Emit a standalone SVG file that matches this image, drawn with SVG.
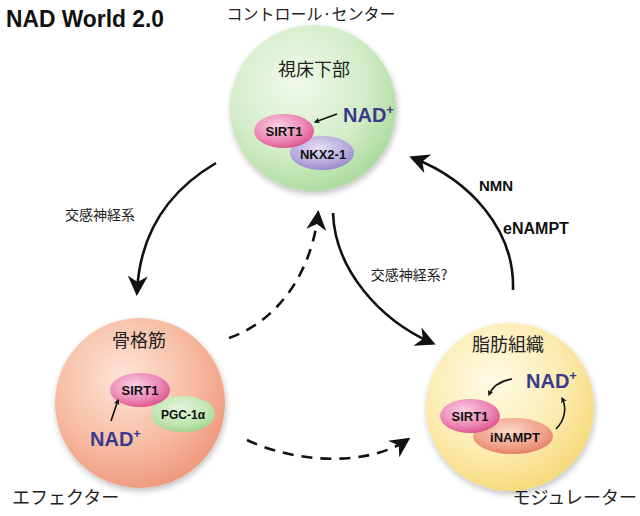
<svg xmlns="http://www.w3.org/2000/svg" width="640" height="516" viewBox="0 0 640 516">
<defs>
<radialGradient id="gG" cx="0.4" cy="0.35" r="0.7">
<stop offset="0" stop-color="#f1f9ea"/><stop offset="0.6" stop-color="#d3edc8"/><stop offset="1" stop-color="#a9d99c"/>
</radialGradient>
<radialGradient id="gS" cx="0.4" cy="0.35" r="0.7">
<stop offset="0" stop-color="#fde5d8"/><stop offset="0.6" stop-color="#f7bba2"/><stop offset="1" stop-color="#ee9679"/>
</radialGradient>
<radialGradient id="gY" cx="0.4" cy="0.35" r="0.7">
<stop offset="0" stop-color="#fffbe6"/><stop offset="0.6" stop-color="#fcebb0"/><stop offset="1" stop-color="#f5d874"/>
</radialGradient>
<radialGradient id="gPink" cx="0.4" cy="0.35" r="0.75">
<stop offset="0" stop-color="#f9d0e2"/><stop offset="0.6" stop-color="#ec86b4"/><stop offset="1" stop-color="#d9447f"/>
</radialGradient>
<radialGradient id="gPur" cx="0.45" cy="0.35" r="0.75">
<stop offset="0" stop-color="#e4def4"/><stop offset="0.6" stop-color="#b5a9dc"/><stop offset="1" stop-color="#8a7bc4"/>
</radialGradient>
<radialGradient id="gLG" cx="0.45" cy="0.35" r="0.75">
<stop offset="0" stop-color="#e6f6de"/><stop offset="0.6" stop-color="#bfe5b0"/><stop offset="1" stop-color="#94d07f"/>
</radialGradient>
<radialGradient id="gOr" cx="0.45" cy="0.35" r="0.75">
<stop offset="0" stop-color="#fbd8c8"/><stop offset="0.6" stop-color="#f0a088"/><stop offset="1" stop-color="#e0705a"/>
</radialGradient>
<filter id="sh" x="-20%" y="-20%" width="140%" height="140%">
<feGaussianBlur in="SourceAlpha" stdDeviation="3"/><feOffset dx="1" dy="3"/>
<feComponentTransfer><feFuncA type="linear" slope="0.25"/></feComponentTransfer>
<feMerge><feMergeNode/><feMergeNode in="SourceGraphic"/></feMerge>
</filter>
<marker id="ah" viewBox="0 0 10 10" refX="8" refY="5" markerWidth="6" markerHeight="6" orient="auto" markerUnits="userSpaceOnUse">
<path d="M0,0 L10,5 L0,10 L3,5 Z" fill="#111"/>
</marker>
<marker id="ahB" viewBox="0 0 10 10" refX="8" refY="5" markerWidth="20" markerHeight="20" orient="auto" markerUnits="userSpaceOnUse">
<path d="M0,0 L10,5 L0,10 L3,5 Z" fill="#111"/>
</marker>
</defs>
<style>
.jp{font-family:"Noto Sans CJK JP","Noto Sans",sans-serif;fill:#222}
.b{font-family:"Liberation Sans",Arial,sans-serif;font-weight:bold;fill:#111}
.nad{font-family:"Liberation Sans",Arial,sans-serif;font-weight:bold;fill:#3a3a8c;font-size:20px}
.conn{fill:none;stroke:#111;stroke-width:2.6}
.dash{stroke-dasharray:11 8}
.small{fill:none;stroke:#111;stroke-width:1.6}
</style>
<rect width="640" height="516" fill="#ffffff"/>
<text x="6" y="27" class="b" font-size="23" textLength="158" lengthAdjust="spacingAndGlyphs">NAD World 2.0</text>
<text x="311" y="20" class="jp" font-size="16" text-anchor="middle">コントロール·センター</text>
<text x="12" y="504" class="jp" font-size="18">エフェクター</text>
<text x="637" y="504" class="jp" font-size="18" text-anchor="end">モジュレーター</text>

<g id="connectors">
<path class="conn" d="M216,163 C170,190 140,230 137,292" marker-end="url(#ahB)"/>
<path class="conn" d="M333,213 C335,270 380,320 432,343" marker-end="url(#ahB)"/>
<path class="conn" d="M513,290 C515,230 470,180 413,158" marker-end="url(#ahB)"/>
<path class="conn dash" d="M229,338 C280,320 312,270 318,214" marker-end="url(#ahB)"/>
<path class="conn dash" d="M247,440 C300,465 370,465 407,440" marker-end="url(#ahB)"/>
<text x="100" y="220" class="jp" font-size="14" text-anchor="middle">交感神経系</text>
<text x="409" y="280" class="jp" font-size="14" text-anchor="middle">交感神経系?</text>
<text x="496" y="191" class="b" font-size="15" text-anchor="middle">NMN</text>
<text x="536" y="234" class="b" font-size="16" text-anchor="middle">eNAMPT</text>
</g>

<g id="hypothalamus">
<circle cx="313" cy="108" r="83" fill="url(#gG)" filter="url(#sh)"/>
<text x="314" y="76" class="jp" font-size="18" text-anchor="middle">視床下部</text>
<ellipse cx="322" cy="153" rx="32" ry="17" fill="url(#gPur)"/>
<ellipse cx="284" cy="131" rx="30" ry="17" fill="url(#gPink)"/>
<text x="284" y="136" class="b" font-size="13" text-anchor="middle">SIRT1</text>
<text x="323" y="159" class="b" font-size="13" text-anchor="middle">NKX2-1</text>
<path class="small" d="M337,114 L315,122" marker-end="url(#ah)"/>
<text x="343" y="122" class="nad">NAD<tspan font-size="13" dy="-8">+</tspan></text>
</g>

<g id="muscle">
<circle cx="140" cy="403" r="85" fill="url(#gS)" filter="url(#sh)"/>
<text x="139" y="347" class="jp" font-size="18" text-anchor="middle">骨格筋</text>
<ellipse cx="183" cy="414" rx="32" ry="18" fill="url(#gLG)"/>
<ellipse cx="140" cy="390" rx="30" ry="17" fill="url(#gPink)"/>
<text x="140" y="395" class="b" font-size="13" text-anchor="middle">SIRT1</text>
<text x="183" y="419" class="b" font-size="12" text-anchor="middle">PGC-1α</text>
<path class="small" d="M111,421 L118,400" marker-end="url(#ah)"/>
<text x="90" y="446" class="nad">NAD<tspan font-size="13" dy="-8">+</tspan></text>
</g>

<g id="adipose">
<circle cx="510" cy="407" r="84" fill="url(#gY)" filter="url(#sh)"/>
<text x="508" y="351" class="jp" font-size="18" text-anchor="middle">脂肪組織</text>
<ellipse cx="513" cy="436" rx="40" ry="18" fill="url(#gOr)"/>
<ellipse cx="470" cy="416" rx="30" ry="17" fill="url(#gPink)"/>
<text x="470" y="421" class="b" font-size="13" text-anchor="middle">SIRT1</text>
<text x="515" y="442" class="b" font-size="13" text-anchor="middle">iNAMPT</text>
<text x="526" y="388" class="nad">NAD<tspan font-size="13" dy="-8">+</tspan></text>
<path class="small" d="M512,379 C500,381 492,387 489,395" marker-end="url(#ah)"/>
<path class="small" d="M556,429 C565,420 567,408 562,398" marker-end="url(#ah)"/>
</g>
</svg>
